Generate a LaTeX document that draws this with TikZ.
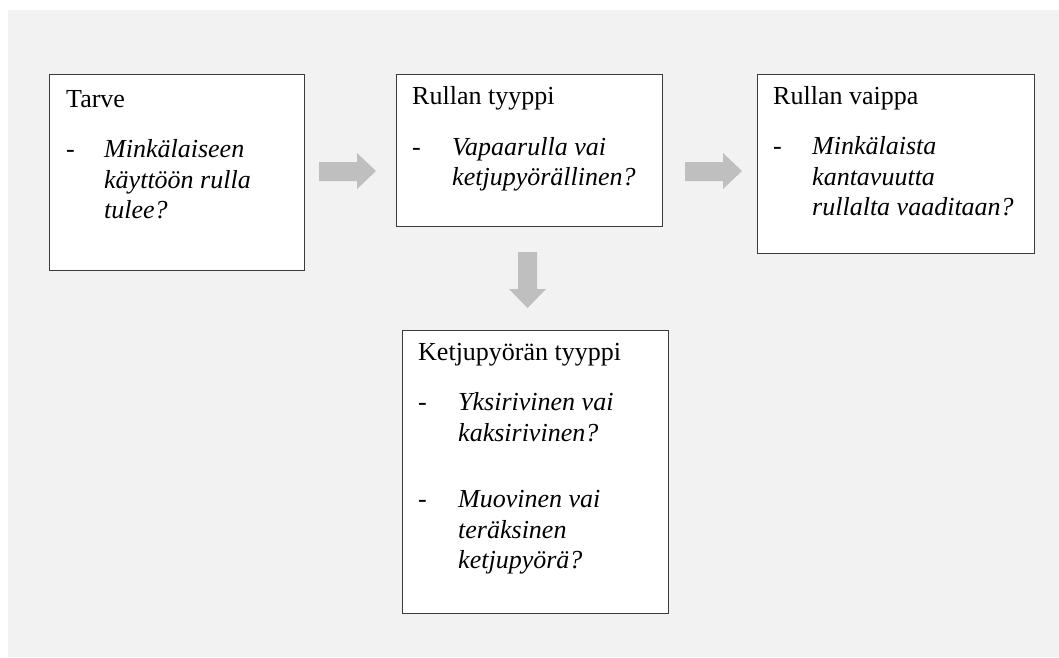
\documentclass[tikz,border=0pt]{standalone}
\usepackage{fontspec}
\setmainfont{Liberation Serif}
\definecolor{bggray}{HTML}{F2F2F2}
\definecolor{arrowgray}{HTML}{BFBFBF}
\definecolor{boxline}{HTML}{3A3A3A}
\begin{document}
\begin{tikzpicture}[x=1pt,y=-1pt,
  box/.style={draw=boxline, line width=1.3pt, fill=white, anchor=north west, inner sep=0pt},
  ttl/.style={anchor=base west, inner sep=0pt, font=\fontsize{26}{31}\selectfont},
  itm/.style={anchor=base west, inner sep=0pt, font=\fontsize{26}{31}\selectfont\itshape},
  blockarrow/.style={fill=arrowgray, draw=none}]
\useasboundingbox[fill=white] (0,0) rectangle (1059,657);
\fill[bggray] (8,10) rectangle (1059,657);

% boxes
\node[box, minimum width=255pt, minimum height=196pt] (tarve) at (49,74) {};
\node[box, minimum width=266pt, minimum height=152pt] (tyyppi) at (396,74) {};
\node[box, minimum width=277pt, minimum height=179pt] (vaippa) at (757,74) {};
\node[box, minimum width=266pt, minimum height=283pt] (ketju) at (402,330) {};

% box 1
\node[ttl] (t1) at (66,107) {Tarve};
\node[ttl] (d1) at (66,157) {-};
\node[itm] (t1a) at (104,157) {Minkälaiseen};
\node[itm] (t1b) at (104,188) {käyttöön rulla};
\node[itm] (t1c) at (104,218) {tulee?};

% box 2
\node[ttl] (t2) at (412,104) {Rullan tyyppi};
\node[ttl] (d2) at (412,155) {-};
\node[itm] (t2a) at (452,155) {Vapaarulla vai};
\node[itm] (t2b) at (452,185) {ketjupyörällinen?};

% box 3
\node[ttl] (t3) at (773,104) {Rullan vaippa};
\node[ttl] (d3) at (773,154) {-};
\node[itm] (t3a) at (812,154) {Minkälaista};
\node[itm] (t3b) at (812,185) {kantavuutta};
\node[itm] (t3c) at (812,215) {rullalta vaaditaan?};

% box 4
\node[ttl] (t4) at (418,360) {Ketjupyörän tyyppi};
\node[ttl] (d4a) at (418,410) {-};
\node[itm] (t4a) at (458,410) {Yksirivinen vai};
\node[itm] (t4b) at (458,441) {kaksirivinen?};
\node[ttl] (d4b) at (418,507) {-};
\node[itm] (t4c) at (458,507) {Muovinen vai};
\node[itm] (t4d) at (458,538) {teräksinen};
\node[itm] (t4e) at (458,568) {ketjupyörä?};

% block arrows
\fill[blockarrow] (319,162) -- (357,162) -- (357,153) -- (376,171) -- (357,189) -- (357,181) -- (319,181) -- cycle;
\fill[blockarrow] (685,162) -- (723,162) -- (723,153) -- (742,171) -- (723,189) -- (723,181) -- (685,181) -- cycle;
\fill[blockarrow] (518,252) -- (537,252) -- (537,289) -- (546,289) -- (527.5,308) -- (509,289) -- (518,289) -- cycle;
\end{tikzpicture}
\end{document}
